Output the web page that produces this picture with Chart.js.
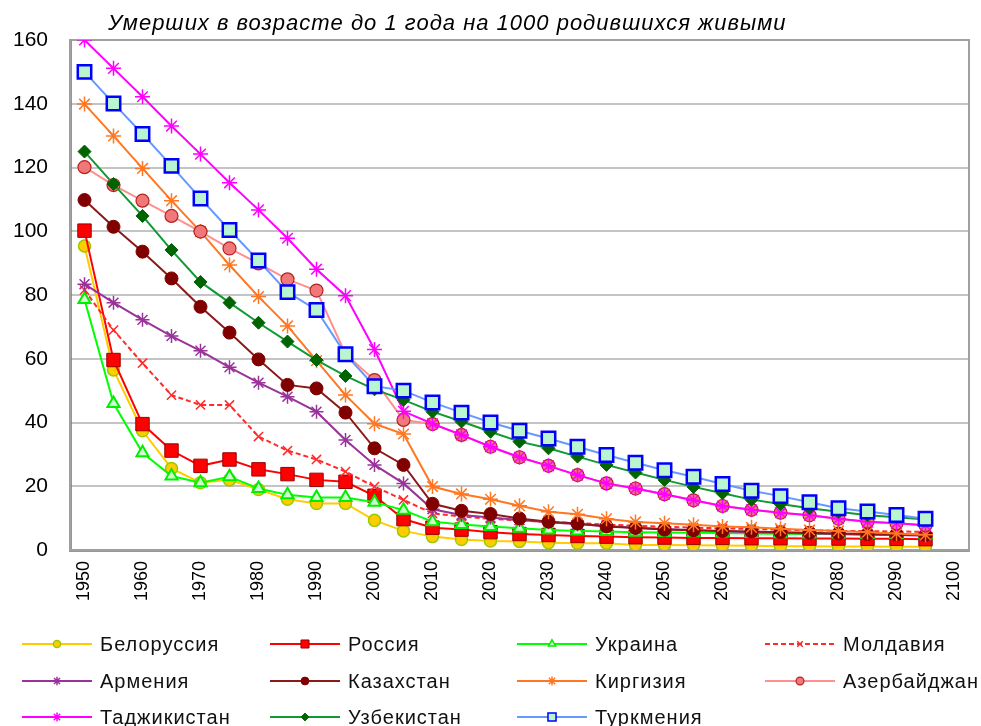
<!DOCTYPE html>
<html>
<head>
<meta charset="utf-8">
<title>Младенческая смертность</title>
<script src="https://cdn.jsdelivr.net/npm/chart.js@4"></script>
<style>
    html, body { margin: 0; padding: 0; background: #fff; }
    #contenedor { width: 981px; height: 726px; }
</style>
</head>
<body>
<div id="contenedor"><canvas id="grafica" width="981" height="726"></canvas></div>
<script>
// Datos (умерших до 1 года на 1000 родившихся), 1950-2095 cada 5 años
const anios = ['1950', '1955', '1960', '1965', '1970', '1975', '1980', '1985', '1990', '1995',
    '2000', '2005', '2010', '2015', '2020', '2025', '2030', '2035', '2040', '2045',
    '2050', '2055', '2060', '2065', '2070', '2075', '2080', '2085', '2090', '2095', '2100'];

const belorussia = [95.4, 56.5, 37.4, 25.6, 21.1, 22.0, 19.0, 15.9, 14.6, 14.6, 9.3, 6.0, 4.2, 3.3, 2.8, 2.7, 2.3, 2.1, 2.1, 1.6, 1.6, 1.5, 1.4, 1.3, 1.2, 1.2, 1.1, 1.1, 1.0, 1.0];
const rossiya = [100.2, 59.6, 39.5, 31.2, 26.4, 28.4, 25.3, 23.8, 22.0, 21.4, 17.0, 9.7, 7.0, 6.4, 5.6, 5.0, 4.7, 4.4, 4.2, 4.0, 3.9, 3.8, 3.8, 3.7, 3.7, 3.6, 3.6, 3.5, 3.5, 3.4];
const ukraina = [78.6, 46.0, 30.5, 23.2, 21.1, 23.0, 19.3, 17.3, 16.5, 16.5, 15.0, 12.5, 8.9, 8.0, 7.4, 6.8, 6.3, 6.0, 5.8, 5.6, 5.5, 5.4, 5.3, 5.2, 5.1, 5.0, 5.0, 4.9, 4.9, 4.8];
const moldavia = [81.6, 69.0, 58.6, 48.6, 45.5, 45.5, 35.6, 31.2, 28.4, 24.6, 19.9, 15.7, 11.5, 10.5, 9.8, 9.3, 8.8, 8.4, 8.0, 7.6, 7.3, 7.0, 6.8, 6.6, 6.4, 6.2, 6.0, 5.9, 5.8, 5.7];
const armenia = [83.4, 77.6, 72.2, 67.1, 62.5, 57.3, 52.5, 48.1, 43.4, 34.5, 26.7, 20.9, 12.8, 11.0, 10.2, 9.4, 8.7, 8.1, 7.5, 7.0, 6.6, 6.2, 5.9, 5.6, 5.4, 5.2, 5.0, 4.8, 4.7, 4.5];
const kazajstan = [109.8, 101.4, 93.6, 85.2, 76.3, 68.2, 59.8, 51.8, 50.7, 43.1, 31.9, 26.7, 14.5, 12.3, 11.3, 9.9, 8.9, 8.3, 7.4, 6.9, 6.4, 6.2, 6.0, 5.8, 5.6, 5.4, 5.2, 5.0, 4.9, 4.7];
const kirguizia = [139.9, 129.9, 119.7, 109.6, 99.9, 89.4, 79.5, 70.3, 59.4, 48.6, 39.6, 36.4, 19.9, 17.6, 15.9, 13.9, 12.0, 11.2, 9.8, 8.8, 8.4, 7.9, 7.4, 7.1, 6.7, 6.3, 6.0, 5.6, 5.2, 4.8];
const azerbaiyan = [120.1, 114.5, 109.6, 104.8, 99.9, 94.6, 89.9, 84.9, 81.4, 61.5, 53.3, 40.8, 39.5, 36.1, 32.4, 29.1, 26.4, 23.5, 20.9, 19.3, 17.5, 15.6, 13.8, 12.6, 11.7, 10.9, 9.8, 8.9, 8.4, 7.8];
const tayikistan = [160.0, 151.1, 142.2, 133.0, 124.2, 115.2, 106.7, 97.8, 88.1, 79.8, 62.9, 43.5, 39.6, 36.1, 32.4, 29.1, 26.4, 23.5, 20.9, 19.3, 17.5, 15.6, 13.8, 12.6, 11.7, 10.9, 9.8, 8.9, 8.4, 7.8];
const uzbekistan = [125.0, 114.8, 104.8, 94.1, 84.1, 77.6, 71.3, 65.4, 59.6, 54.6, 50.4, 47.1, 43.4, 40.3, 37.1, 34.0, 31.9, 29.3, 26.7, 24.3, 22.0, 19.8, 17.8, 15.8, 14.4, 13.1, 12.0, 10.9, 10.3, 9.6];
const turkmenia = [150.0, 140.1, 130.5, 120.5, 110.3, 100.4, 90.8, 80.9, 75.3, 61.4, 51.4, 50.0, 46.3, 43.1, 40.0, 37.4, 35.0, 32.4, 29.8, 27.4, 25.0, 23.0, 20.7, 18.6, 16.9, 15.0, 13.1, 12.1, 11.0, 9.8];

const titulo = 'Умерших в возрасте до 1 года на 1000 родившихся живыми';
const fuente = '"Liberation Sans", Arial, sans-serif';

// arma un dataset con su estilo de línea y marcador
function serie(label, data, linea, estilo, radio, relleno, borde, anchoBorde, guiones) {
    return {
        label: label,
        data: data,
        borderColor: linea,
        backgroundColor: relleno,
        borderWidth: 2,
        borderDash: guiones || [],
        pointStyle: estilo,
        pointRadius: radio,
        pointBackgroundColor: relleno,
        pointBorderColor: borde,
        pointBorderWidth: anchoBorde,
        tension: 0,
        fill: false
    };
}

const series = [
    serie('Белоруссия', belorussia, '#ffcc00', 'circle', 6, '#ffcc00', '#99cc00', 1.5),
    serie('Россия', rossiya, '#ff0000', 'rect', 9.5, '#ff0000', '#990000', 1),
    serie('Украина', ukraina, '#00ff00', 'triangle', 7, '#ccffcc', '#00ee00', 2),
    serie('Молдавия', moldavia, '#ff2a2a', 'crossRot', 6.5, '#ff2a2a', '#ff2a2a', 1.5, [5, 3]),
    serie('Армения', armenia, '#993399', 'star', 7, '#993399', '#993399', 1.5),
    serie('Казахстан', kazajstan, '#8b1a1a', 'circle', 6.5, '#800000', '#800000', 1),
    serie('Киргизия', kirguizia, '#ff7722', 'star', 7.5, '#ff7722', '#ff7722', 1.5),
    serie('Азербайджан', azerbaiyan, '#ff9090', 'circle', 6.5, '#f07878', '#b22222', 1.2),
    serie('Таджикистан', tayikistan, '#ff00ff', 'star', 7.5, '#ff00ff', '#ff00ff', 1.5),
    serie('Узбекистан', uzbekistan, '#119933', 'rectRot', 6.5, '#006400', '#006400', 1),
    serie('Туркмения', turkmenia, '#6699ff', 'rect', 9.5, '#b9f5d0', '#0000ff', 2.5)
];
// en Excel la última serie queda encima
series.forEach((s, i) => { s.order = series.length - i; });

// marco gris del área de trazado
const marcoPlugin = {
    id: 'marco',
    beforeDatasetsDraw(chart) {
        const a = chart.chartArea;
        const ctx = chart.ctx;
        ctx.save();
        ctx.strokeStyle = '#a0a0a0';
        ctx.lineWidth = 2;
        ctx.strokeRect(a.left, a.top, a.right - a.left, a.bottom - a.top);
        ctx.restore();
    }
};

// título en cursiva, desplazado a la izquierda como en el original
const tituloPlugin = {
    id: 'titulo',
    afterDraw(chart) {
        const ctx = chart.ctx;
        ctx.save();
        ctx.fillStyle = '#000';
        ctx.font = 'italic 22px ' + fuente;
        ctx.letterSpacing = '1px';
        ctx.textBaseline = 'alphabetic';
        ctx.fillText(titulo, 108, 30);
        ctx.restore();
    }
};

// leyenda en rejilla de 4 columnas
const leyendaPlugin = {
    id: 'leyenda',
    afterDraw(chart) {
        const ctx = chart.ctx;
        const cols = [22, 270, 517, 765];
        const filas = [644, 681, 717];
        chart.data.datasets.forEach((ds, i) => {
            const x = cols[i % 4];
            const y = filas[Math.floor(i / 4)];
            ctx.save();
            ctx.strokeStyle = ds.borderColor;
            ctx.lineWidth = 2;
            ctx.setLineDash(ds.borderDash);
            ctx.beginPath();
            ctx.moveTo(x, y);
            ctx.lineTo(x + 70, y);
            ctx.stroke();
            ctx.setLineDash([]);
            ctx.fillStyle = ds.pointBackgroundColor;
            ctx.strokeStyle = ds.pointBorderColor;
            ctx.lineWidth = Math.min(ds.pointBorderWidth, 1.5);
            Chart.helpers.drawPoint(ctx, {
                pointStyle: ds.pointStyle,
                radius: ds.pointRadius * 0.6,
                rotation: 0,
                borderWidth: ctx.lineWidth
            }, x + 35, y);
            ctx.fillStyle = '#111';
            ctx.font = '20px ' + fuente;
            ctx.letterSpacing = '1px';
            ctx.textBaseline = 'middle';
            ctx.fillText(ds.label, x + 78, y + 1);
            ctx.restore();
        });
    }
};

const ctx = document.getElementById('grafica').getContext('2d');
const grafica = new Chart(ctx, {
    type: 'line',
    data: {
        labels: anios,
        datasets: series
    },
    options: {
        responsive: false,
        animation: false,
        layout: {
            padding: { top: 40, right: 11, bottom: 116, left: 0 }
        },
        plugins: {
            legend: { display: false },
            title: { display: false },
            tooltip: { enabled: false }
        },
        scales: {
            x: {
                type: 'category',
                offset: true,
                afterFit: (s) => { s.height = 60; s.paddingLeft = 0; s.paddingRight = 0; },
                grid: { display: false, drawTicks: false },
                border: { display: true, color: '#333333', width: 2.5 },
                ticks: {
                    autoSkip: false,
                    maxRotation: 90,
                    minRotation: 90,
                    padding: 11,
                    color: '#000',
                    font: { family: fuente, size: 18 },
                    callback: function (v, i) {
                        const a = this.getLabelForValue(v);
                        return (Number(a) % 10 === 0) ? a : '';
                    }
                }
            },
            y: {
                min: 0,
                max: 160,
                afterFit: (s) => { s.width = 70; },
                grid: { color: '#c4c4c4', lineWidth: 2, drawTicks: false },
                border: { display: true, color: '#333333', width: 2.5 },
                ticks: {
                    stepSize: 20,
                    padding: 22,
                    color: '#000',
                    font: { family: fuente, size: 21 }
                }
            }
        }
    },
    plugins: [marcoPlugin, tituloPlugin, leyendaPlugin]
});
</script>
</body>
</html>
